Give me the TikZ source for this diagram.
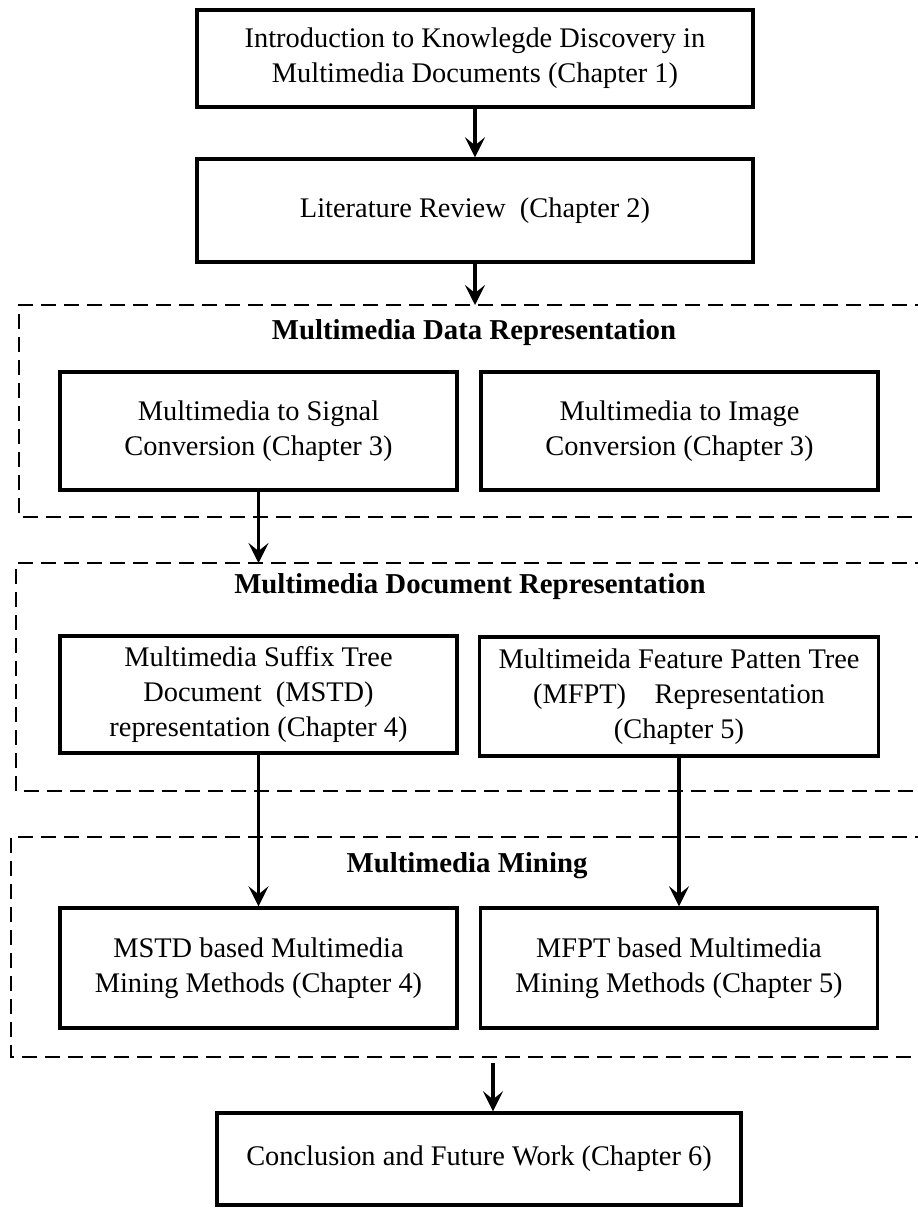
\documentclass[tikz,border=0pt]{standalone}
\usepackage{fontspec}
\setmainfont{Liberation Serif}
\usetikzlibrary{arrows.meta}

\begin{document}
\begin{tikzpicture}[x=0.5pt, y=-0.5pt,
  every node/.style={font=\fontsize{14.2}{17.5}\selectfont},
  chapbox/.style={draw, line width=1.7pt, align=center, inner sep=0pt},
  grouptitle/.style={font=\fontsize{14.4}{17.5}\selectfont\bfseries},
  frame/.style={line width=1pt, dash pattern=on 7.5pt off 4pt},
  arr/.style={line width=1.8pt, -{Stealth[length=10pt,width=10pt,inset=4pt]}}]

\useasboundingbox (0,0) rectangle (917,1211);

% chapter boxes
\node[chapbox, minimum width=278pt, minimum height=48.5pt] (intro) at (475,58.5)
  {Introduction to Knowlegde Discovery in\\Multimedia Documents (Chapter 1)};
\node[chapbox, minimum width=278pt, minimum height=51.5pt] (lit) at (475,210.5)
  {Literature Review\ \ (Chapter 2)};

\node[chapbox, minimum width=198.5pt, minimum height=59pt] (sig) at (258.5,431)
  {Multimedia to Signal\\Conversion (Chapter 3)};
\node[chapbox, minimum width=198.5pt, minimum height=59pt] (img) at (679.5,431)
  {Multimedia to Image\\Conversion (Chapter 3)};

\node[chapbox, minimum width=198.5pt, minimum height=58.5pt] (mstd) at (258.5,694.5)
  {Multimedia Suffix Tree\\Document\ \ (MSTD)\\representation (Chapter 4)};
\node[chapbox, minimum width=199.5pt, minimum height=59.5pt] (mfpt) at (679,696.5)
  {Multimeida Feature Patten Tree\\(MFPT)\quad Representation\\(Chapter 5)};

\node[chapbox, minimum width=198.5pt, minimum height=60pt] (mstdmine) at (258.5,968)
  {MSTD based Multimedia\\Mining Methods (Chapter 4)};
\node[chapbox, minimum width=198.5pt, minimum height=60pt] (mfptmine) at (679,968)
  {MFPT based Multimedia\\Mining Methods (Chapter 5)};

\node[chapbox, minimum width=262pt, minimum height=46pt] (concl) at (479,1159)
  {Conclusion and Future Work (Chapter 6)};

% dashed group frames, open at the right edge
\coordinate (f1) at (19,305);
\coordinate (f2) at (16,563);
\coordinate (f3) at (11,837);
\draw[frame] (930,305) -- (f1) -- (19,517) -- (930,517);
\draw[frame] (930,563) -- (f2) -- (16,791) -- (930,791);
\draw[frame] (930,837) -- (f3) -- (11,1057) -- (930,1057);

% group titles
\node[grouptitle] (t1) at (474,333) {Multimedia Data Representation};
\node[grouptitle] (t2) at (470,587) {Multimedia Document Representation};
\node[grouptitle] (t3) at (467,866) {Multimedia Mining};

% connectors
\draw[arr] (intro.south) -- (lit.north);
\draw[arr] (lit.south) -- (lit.south |- f1);
\draw[arr] (sig.south) -- (sig.south |- f2);
\draw[arr] (mstd.south) -- (mstdmine.north);
\draw[arr] (mfpt.south) -- (mfptmine.north);
\coordinate (a5) at (493,1063);
\draw[arr] (a5) -- (a5 |- concl.north);

\end{tikzpicture}
\end{document}
